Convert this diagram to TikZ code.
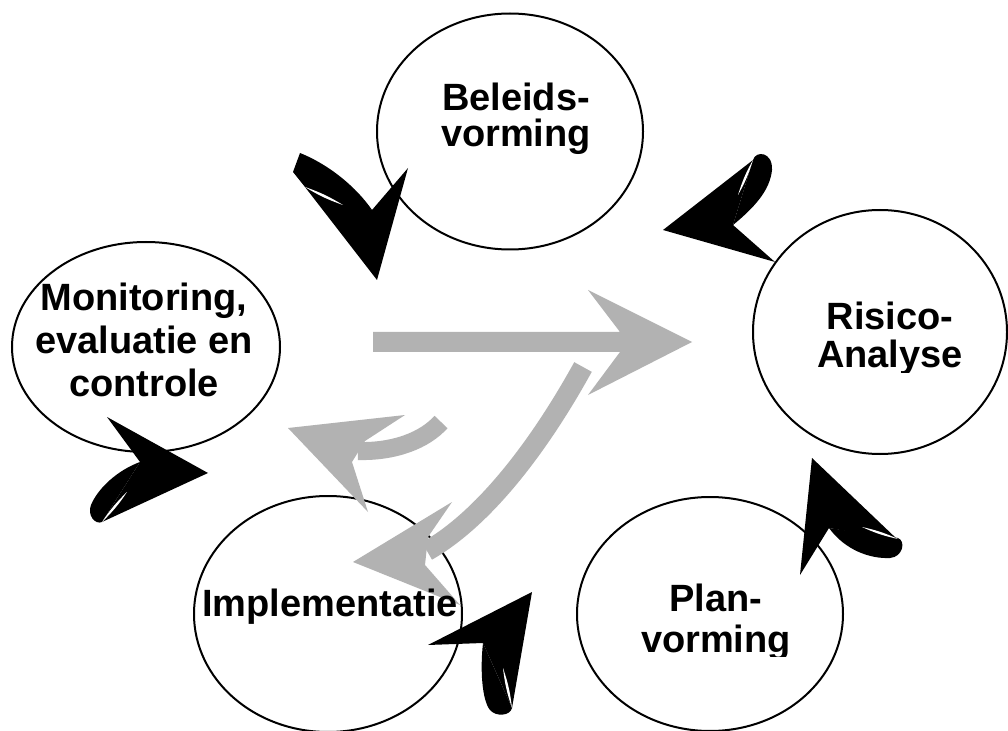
\documentclass[tikz,border=0pt]{standalone}
\usepackage{fontspec}
\setmainfont{Liberation Sans}
\usetikzlibrary{shapes.geometric}
\definecolor{arrowgrey}{RGB}{178,178,178}
\begin{document}
\begin{tikzpicture}[x=0.75pt,y=-0.75pt,
  phase/.style={ellipse, draw=black, line width=1.5pt, inner sep=0pt},
  lbl/.style={align=center, font=\bfseries\fontsize{28.5}{#1}\selectfont, inner sep=0pt, text=black},
  lbl/.default=31,
  greyfill/.style={fill=arrowgrey},
  greyshaft/.style={draw=arrowgrey, line width=#1},
  blackfill/.style={fill=black},
  crack/.style={fill=white}]
\fill[white] (0,0) rectangle (1008,731);
\useasboundingbox (0,0) rectangle (1008,731);

% phases
\node[phase, minimum width=199.5pt, minimum height=177pt] (bel) at (510,131.5) {};
\node[phase, minimum width=190.5pt, minimum height=183pt] (ris) at (880,332) {};
\node[phase, minimum width=201pt, minimum height=157.5pt] (mon) at (146,347) {};
\node[phase, minimum width=201pt, minimum height=177pt] (imp) at (328,614) {};
\node[phase, minimum width=199.5pt, minimum height=175.5pt] (pln) at (710,614) {};

% grey arrows
\fill[greyfill] (373,332) -- (620,332) -- (588,290) -- (692,342) -- (588,395) -- (620,352) -- (373,352) -- cycle;
\draw[greyshaft=15pt] (583,367) .. controls (540,445) and (485,518) .. (427,551);
\fill[greyfill] (428,537) -- (452,502) -- (353,562) -- (460,605) -- (425,565) -- cycle;
\draw[greyshaft=13.5pt] (358,451) .. controls (395,452) and (425,440) .. (441,422);
\fill[greyfill] (365,441) -- (405,415) -- (288,428) -- (368,512) -- (352,462) -- cycle;

% black arrow 1 (top left)
\fill[blackfill] (300,153) .. controls (330,165) and (357,188) .. (372,210) -- (343,205) -- (305,187) -- (293,172) -- cycle;
\fill[blackfill] (305,187) -- (377,280) -- (408,168) -- (372,210) -- cycle;
\fill[crack] (305,187) to[bend right=6] (343,205) to[bend right=6] (305,187);
% black arrow 2 (top right)
\fill[blackfill] (753,160) -- (663,230) -- (775,262) -- (733,225) -- cycle;
\fill[blackfill] (753,160) .. controls (756,150) and (773,152) .. (772,170) .. controls (770,190) and (755,207) .. (733,225) -- cycle;
\fill[crack] (753,160) to[bend right=6] (738,195) to[bend right=6] (753,160);
% black arrow 3 (right)
\fill[blackfill] (812,458) -- (898,540) -- (829,528) -- (800,575) -- cycle;
\fill[blackfill] (829,528) .. controls (845,550) and (870,559) .. (890,558) .. controls (903,557) and (906,541) .. (898,538) -- cycle;
\fill[crack] (862,527) to[bend right=6] (898,539) to[bend right=6] (862,527);
% black arrow 4 (bottom)
\fill[blackfill] (532,592) -- (428,645) -- (483,643) -- (512,708) -- cycle;
\fill[blackfill] (483,643) .. controls (480,670) and (482,700) .. (490,710) .. controls (496,717) and (510,716) .. (512,708) -- cycle;
\fill[crack] (503,668) to[bend right=6] (512,708) to[bend right=6] (503,668);
% black arrow 5 (left)
\fill[blackfill] (107,417) -- (208,473) -- (102,522) -- (140,462) -- cycle;
\fill[blackfill] (140,462) .. controls (118,470) and (98,488) .. (91,505) .. controls (87,515) and (95,525) .. (102,522) -- cycle;
\fill[crack] (127,492) to[bend right=6] (102,522) to[bend right=6] (127,492);

% labels
\node[lbl=27] (belt) at (516,119) {Beleids-\\vorming};
\begin{scope}
  \clip (700,200) rectangle (1008,373);
  \node[lbl=28.5] (rist) at (890,338.5) {Risico-\\Analyse};
\end{scope}
\node[lbl=32.25] (mont) at (144,340) {Monitoring,\\evaluatie en\\controle};
\node[lbl] (impt) at (330,606.5) {Implementatie};
\begin{scope}
  \clip (600,560) rectangle (850,656.7);
  \node[lbl=30.75] (plnt) at (716,622) {Plan-\\vorming};
\end{scope}
\end{tikzpicture}
\end{document}
